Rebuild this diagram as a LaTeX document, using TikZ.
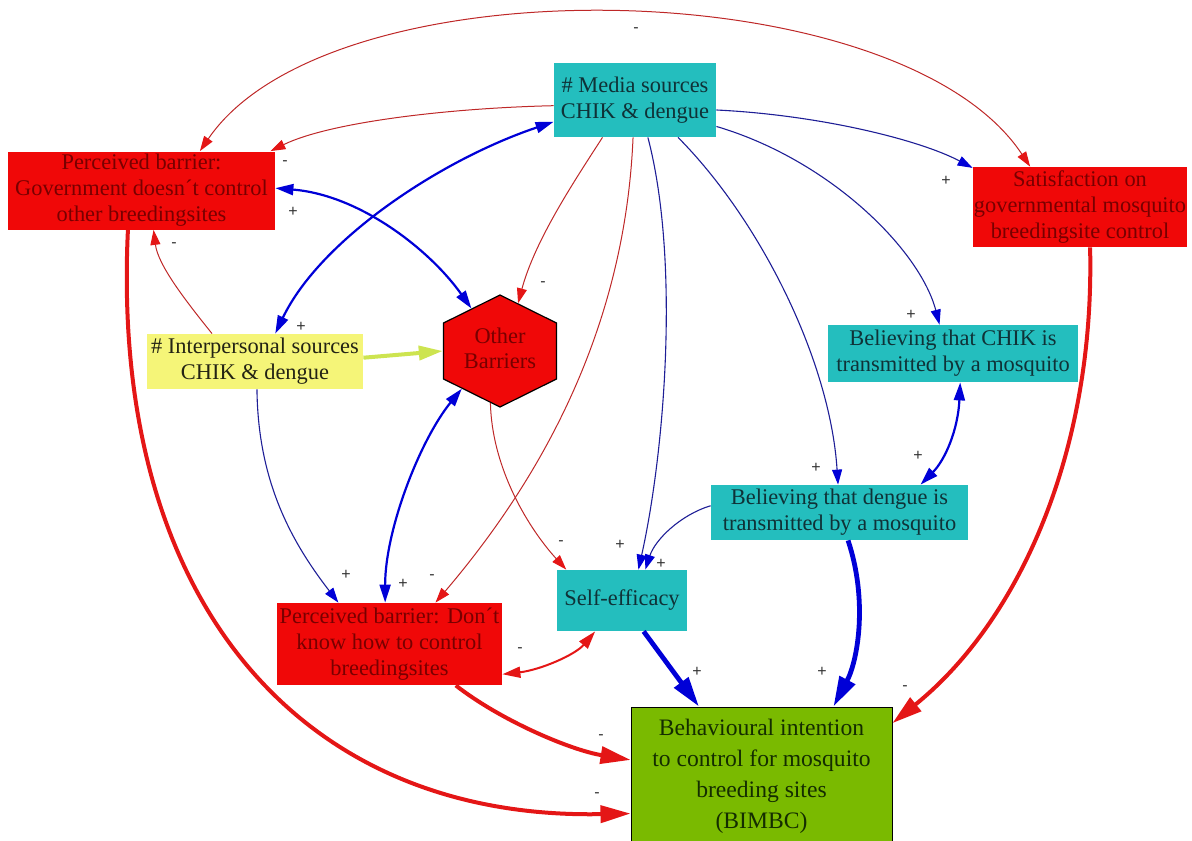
\documentclass[tikz,border=0pt]{standalone}
\usepackage{fontspec}
\usepackage{graphicx}
\setmainfont{Liberation Serif}
\setsansfont{Liberation Sans}
\usetikzlibrary{arrows.meta,shapes.geometric}

\definecolor{boxteal}{RGB}{36,190,190}
\definecolor{boxred}{RGB}{240,8,8}
\definecolor{boxyellow}{RGB}{245,245,120}
\definecolor{boxgreen}{RGB}{122,186,0}
\definecolor{txtteal}{RGB}{15,50,55}
\definecolor{txtred}{RGB}{120,0,0}
\definecolor{txtgreen}{RGB}{20,45,0}
\definecolor{txtdark}{RGB}{35,35,20}
\definecolor{edred}{RGB}{228,22,22}
\definecolor{lnred}{RGB}{190,40,40}
\definecolor{edblue}{RGB}{0,0,215}
\definecolor{lnblue}{RGB}{30,30,150}
\definecolor{edyellow}{RGB}{205,228,80}

\tikzset{
  rS/.tip={Triangle[length=7.5pt,width=5pt,color=edred]},
  bS/.tip={Triangle[length=7.5pt,width=5pt,color=edblue]},
  rM/.tip={Triangle[length=9pt,width=5.5pt,color=edred]},
  bM/.tip={Triangle[length=9pt,width=5.5pt,color=edblue]},
  rL/.tip={Triangle[length=15pt,width=8.5pt,color=edred]},
  bL/.tip={Triangle[length=15pt,width=8.5pt,color=edblue]},
  yL/.tip={Triangle[length=12pt,width=7pt,color=edyellow]},
}

\begin{document}
\begin{tikzpicture}[x=0.5pt,y=-0.5pt,
  box/.style={rectangle, inner sep=0pt, align=center,
    font=\fontsize{11.2pt}{13pt}\selectfont},
  tealbox/.style={box, fill=boxteal, text=txtteal},
  redbox/.style={box, fill=boxred, text=txtred},
  lbl/.style={inner sep=0pt, font=\sffamily\fontsize{8pt}{8pt}\selectfont, text=black!80},
  redthin/.style={draw=lnred, line width=0.5pt},
  redmid/.style={draw=edred, line width=1pt},
  redthick/.style={draw=edred, line width=2pt},
  bluethin/.style={draw=lnblue, line width=0.55pt},
  bluemid/.style={draw=edblue, line width=1.1pt},
  bluethick/.style={draw=edblue, line width=2.4pt},
  yelthick/.style={draw=edyellow, line width=2pt},
]
\useasboundingbox (0,0) rectangle (1192,840);

% ---- factors ----
\node[tealbox, minimum width=81pt, minimum height=37pt] (media) at (635,100)
  {\# Media sources\\CHIK \& dengue};
\node[redbox, minimum width=133.5pt, minimum height=39pt] (gov) at (141.5,190.5)
  {Perceived barrier:\\Government doesn´t control\\other breedingsites};
\node[redbox, minimum width=107pt, minimum height=40pt] (sat) at (1080,207)
  {Satisfaction on\\governmental mosquito\\breedingsite control};
\node[box, fill=boxyellow, text=txtdark, minimum width=108pt, minimum height=27.5pt] (inter) at (255,361.5)
  {\# Interpersonal sources\\CHIK \& dengue};
\node[tealbox, minimum width=125pt, minimum height=28.5pt] (chik) at (953,353.5)
  {Believing that CHIK is\\transmitted by a mosquito};
\node[tealbox, minimum width=128.5pt, minimum height=27.5pt] (dengue) at (839.5,512.5)
  {Believing that dengue is\\transmitted by a mosquito};
\node[tealbox, minimum width=65pt, minimum height=30.5pt] (self) at (622,600.5)
  {Self-efficacy};
\node[redbox, minimum width=112.5pt, minimum height=41pt] (dontknow) at (389.5,644)
  {Perceived barrier: Don´t\\know how to control\\breedingsites};
\node[box, fill=boxgreen, text=txtgreen, draw=black, line width=0.5pt,
  minimum width=130.5pt, minimum height=69pt,
  font=\fontsize{11.8pt}{15.5pt}\selectfont] (bimbc) at (761.5,776)
  {Behavioural intention\\to control for mosquito\\breeding sites\\(BIMBC)};

% hexagon, widened horizontally; the label is counter-scaled
\begin{scope}[shift={(500,351)}]
\node[regular polygon, regular polygon sides=6, shape border rotate=90,
  minimum size=56pt, inner sep=0pt, fill=boxred, draw=black, line width=0.6pt,
  text=txtred, font=\fontsize{11.2pt}{12.5pt}\selectfont,
  xscale=1.165, transform shape] (other) at (0,0)
  {\scalebox{0.858}[1]{\begin{tabular}{@{}c@{}}Other\\Barriers\end{tabular}}};
\end{scope}

% ---- links ----
\draw[redthin, rS-rS] (sat.141) .. controls (900,-30) and (330,-40) .. (gov.34);
\draw[redthin, -rS] (media.184) .. controls (450,108) and (330,122) .. (gov.17);
\draw[bluemid, bM-bM] (gov.1) .. controls (360,195) and (430,250) .. (other.120);
\draw[bluemid, bM-bM] (media.195) .. controls (440,160) and (320,240) .. (inter.54);
\draw[redthin, -rS] (inter.147) .. controls (185,300) and (158,265) .. (gov.287);
\draw[yelthick, -yL] (inter.2) -- (other.180);
\draw[redthin, -rS] (media.229) .. controls (575,180) and (535,240) .. (other.72);
\draw[redthin, -rS] (media.267) .. controls (625,330) and (540,480) .. (dontknow.42);
\draw[bluethin, -bS] (media.289) .. controls (680,260) and (665,450) .. (self.62);
\draw[bluethin, -bS] (media.319) .. controls (760,220) and (830,360) .. (dengue.93);
\draw[bluethin, -bS] (media.342) .. controls (830,160) and (920,250) .. (chik.115);
\draw[bluethin, -bS] (media.353) .. controls (820,115) and (920,140) .. (sat.160);
\draw[bluemid, bM-bM] (chik.284) .. controls (958,430) and (945,460) .. (dengue.19);
\draw[bluethin, -bS] (dengue.177) .. controls (680,515) and (655,540) .. (self.53);
\draw[redthin, -rS] (other.261) .. controls (492,470) and (530,530) .. (self.151);
\draw[bluethin, -bS] (inter.274) .. controls (258,480) and (290,540) .. (dontknow.141);
\draw[bluemid, bM-bM] (other.229) .. controls (420,440) and (385,530) .. (dontknow.96);
\draw[redmid, rM-rM] (dontknow.345) .. controls (540,670) and (575,655) .. (self.229);
\draw[bluethick, -bL] (self.305) -- (bimbc.132);
\draw[bluethick, -bL] (dengue.287) .. controls (868,600) and (858,660) .. (bimbc.44);
\draw[redthick, -rL] (sat.284) .. controls (1095,450) and (1020,620) .. (bimbc.22);
\draw[redthick, -rL] (dontknow.328) .. controls (500,720) and (570,750) .. (bimbc.173);
\draw[redthick, -rL] (gov.251) .. controls (110,600) and (300,820) .. (bimbc.196);

% ---- polarity signs ----
\node[lbl] (s1) at (636,30) {-};
\node[lbl] (s2) at (285,163) {-};
\node[lbl] (s3) at (293,212) {+};
\node[lbl] (s4) at (301,327) {+};
\node[lbl] (s5) at (174,245) {-};
\node[lbl] (s6) at (543,284) {-};
\node[lbl] (s7) at (432,577) {-};
\node[lbl] (s8) at (620,545) {+};
\node[lbl] (s9) at (816,468) {+};
\node[lbl] (s10) at (911,315) {+};
\node[lbl] (s11) at (946,181) {+};
\node[lbl] (s12) at (918,456) {+};
\node[lbl] (s13) at (661,564) {+};
\node[lbl] (s14) at (561,543) {-};
\node[lbl] (s15) at (346,575) {+};
\node[lbl] (s16) at (403,584) {+};
\node[lbl] (s17) at (520,650) {-};
\node[lbl] (s18) at (697,672) {+};
\node[lbl] (s19) at (822,672) {+};
\node[lbl] (s20) at (905,688) {-};
\node[lbl] (s21) at (601,737) {-};
\node[lbl] (s22) at (597,795) {-};
\end{tikzpicture}
\end{document}
